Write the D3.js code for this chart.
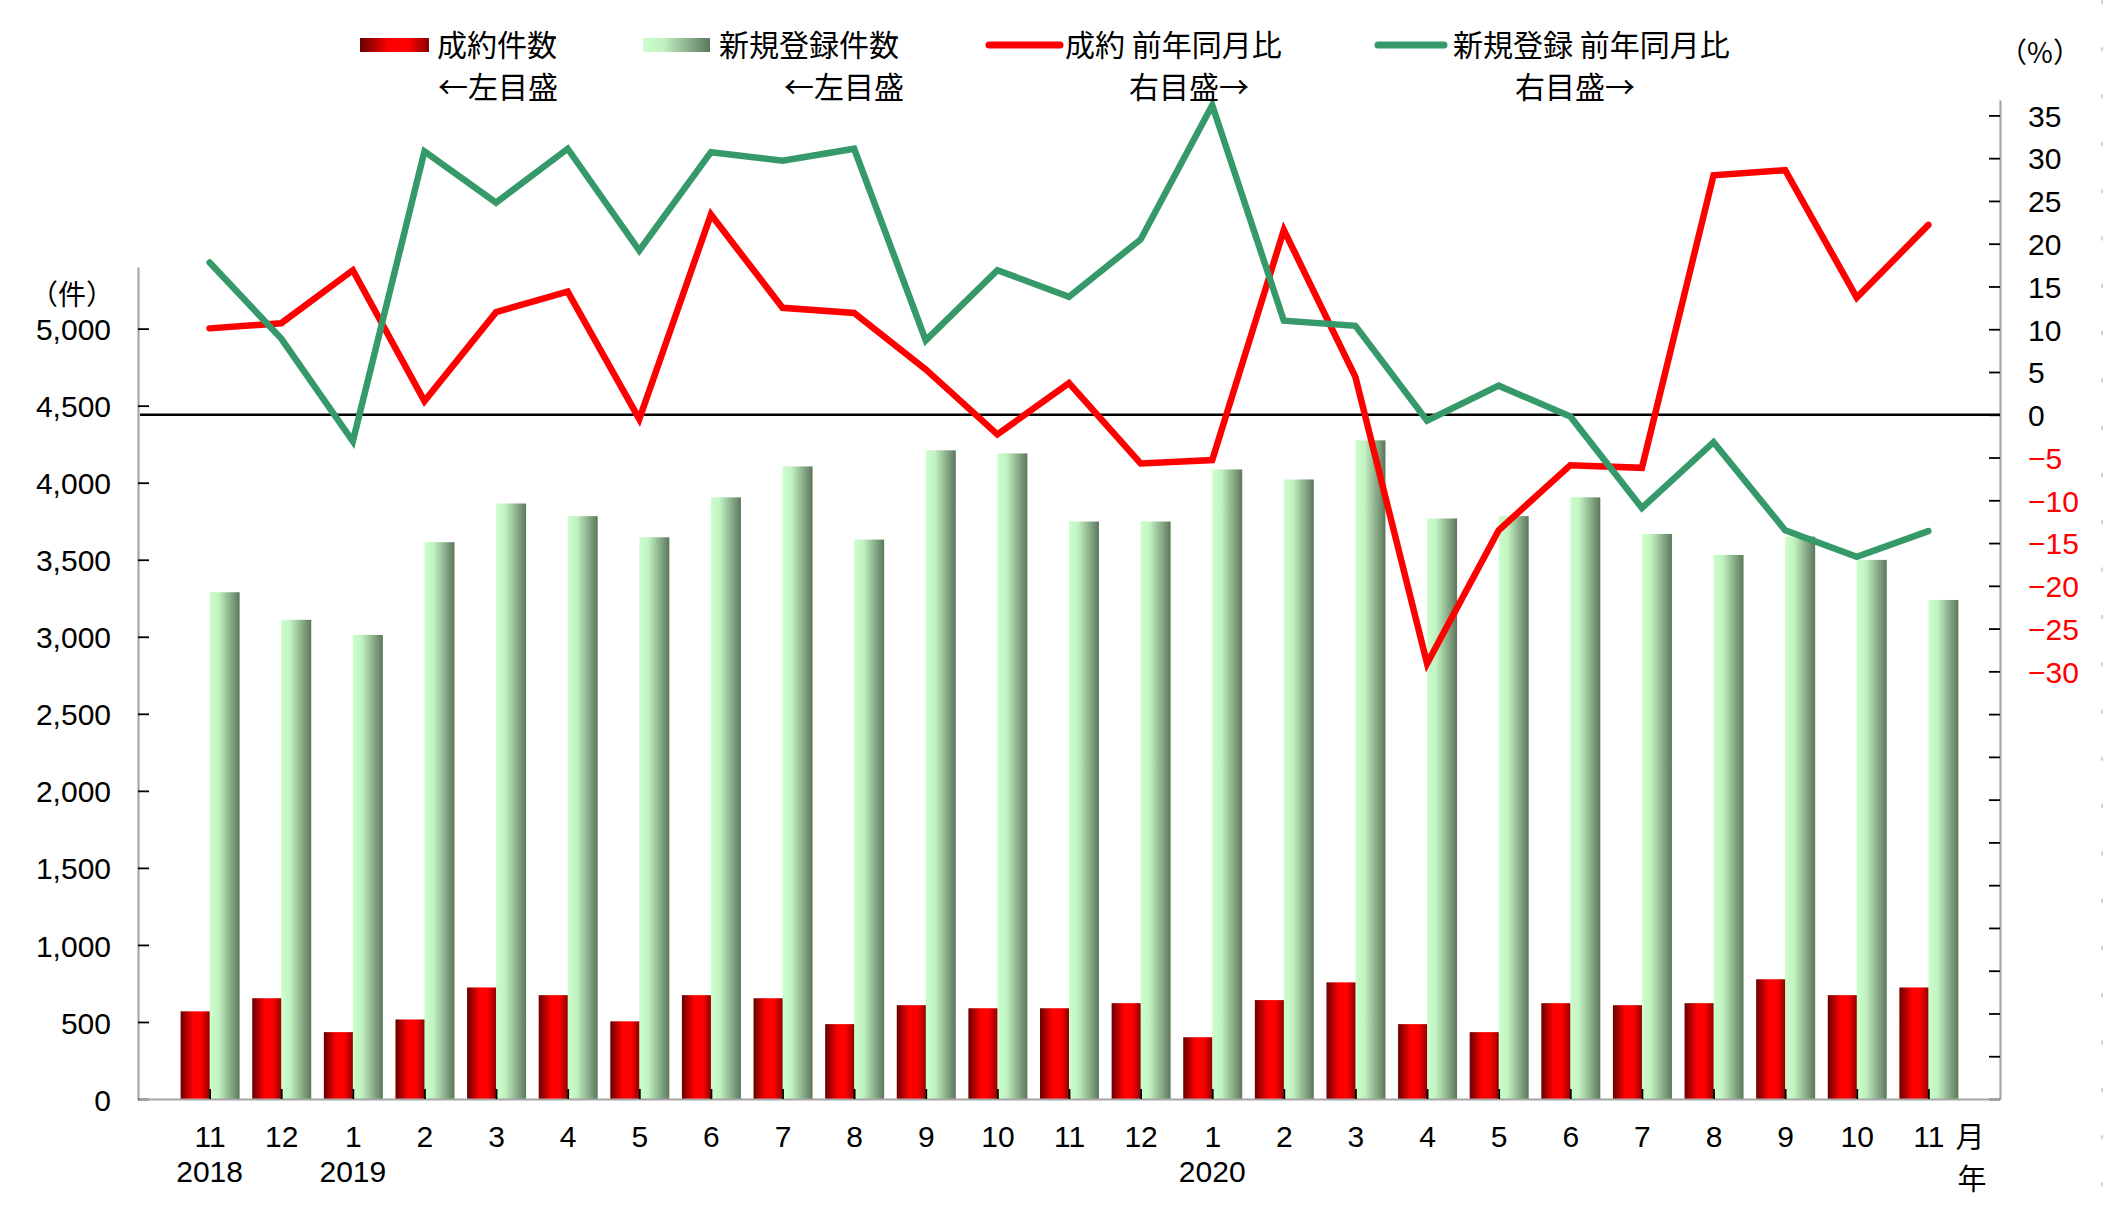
<!DOCTYPE html>
<html>
<head>
<meta charset="utf-8">
<script src="https://d3js.org/d3.v7.min.js"></script>
<style>
body { margin: 0; background: #fff; }
svg text { font-family: "Liberation Sans", "Noto Sans CJK JP", sans-serif; }
svg text.cjk { font-family: "Noto Sans CJK JP", "Liberation Sans", sans-serif; }
</style>
</head>
<body>
<div class="chart"></div>
<script>
// months on the x axis, Nov 2018 .. Nov 2020
var months = ["11", "12", "1", "2", "3", "4", "5", "6", "7", "8", "9", "10", "11", "12",
              "1", "2", "3", "4", "5", "6", "7", "8", "9", "10", "11"];
var yearIndex = [0, 2, 14];
var yearText = ["2018", "2019", "2020"];

// 成約件数 (bars, left axis)
var contracts = [569, 654, 434, 516, 724, 674, 504, 674, 654, 486, 609, 589, 589,
                 622, 401, 642, 757, 486, 434, 622, 609, 622, 777, 674, 724];
// 新規登録件数 (bars, left axis)
var listings = [3289, 3110, 3012, 3614, 3865, 3783, 3646, 3905, 4106, 3631, 4210, 4190, 3748,
                3748, 4086, 4021, 4275, 3768, 3783, 3905, 3667, 3531, 3650, 3499, 3239];
// 成約 前年同月比 (%, right axis)
var contractsYoY = [10.1, 10.7, 16.9, 1.6, 12.0, 14.4, -0.5, 23.4, 12.5, 11.9, 5.3, -2.3, 3.7,
                    -5.7, -5.3, 21.6, 4.4, -29.1, -13.5, -5.9, -6.2, 28.0, 28.6, 13.7, 22.2];
// 新規登録 前年同月比 (%, right axis)
var listingsYoY = [17.8, 8.9, -3.1, 30.8, 24.8, 31.1, 19.2, 30.7, 29.7, 31.1, 8.7, 16.9, 13.8,
                   20.5, 36.2, 11.0, 10.4, -0.7, 3.4, -0.2, -10.9, -3.2, -13.5, -16.6, -13.6];

var leftTicks = [0, 500, 1000, 1500, 2000, 2500, 3000, 3500, 4000, 4500, 5000];
var rightTicks = [-80, -75, -70, -65, -60, -55, -50, -45, -40, -35, -30, -25, -20, -15, -10, -5,
                  0, 5, 10, 15, 20, 25, 30, 35];
var rightLabelMin = -30;

var width = 2117;
var height = 1205;

var svg = d3.select(".chart").append("svg")
    .attr("width", width)
    .attr("height", height)
    .style("display", "block");

var defs = svg.append("defs");
var redGrad = defs.append("linearGradient").attr("id", "redGrad");
redGrad.selectAll("stop")
    .data([[0, "#680000"], [0.42, "#ff0000"], [0.7, "#ff0000"], [1, "#8a0000"]])
    .enter().append("stop")
    .attr("offset", function(d) { return d[0]; })
    .attr("stop-color", function(d) { return d[1]; });
var greenGrad = defs.append("linearGradient").attr("id", "greenGrad");
greenGrad.selectAll("stop")
    .data([[0, "#ccffcc"], [0.3, "#c2f2c2"], [1, "#5c775c"]])
    .enter().append("stop")
    .attr("offset", function(d) { return d[0]; })
    .attr("stop-color", function(d) { return d[1]; });

var left = 138, right = 2000, bottom = 1099;
var x = d3.scaleLinear().domain([-1, months.length]).range([left, right]);
var yL = d3.scaleLinear().domain([0, 5400]).range([bottom, 267]);
var yR = d3.scaleLinear().domain([-80, 36.8]).range([bottom, 100]);

// faint dashed border at far right
svg.append("line")
    .attr("x1", 2102).attr("x2", 2102).attr("y1", 0).attr("y2", height)
    .attr("stroke", "#c4c4c4").attr("stroke-width", 1.5)
    .attr("stroke-dasharray", "4 43.3");

// bars
svg.selectAll("rect.contract")
    .data(contracts)
    .enter().append("rect")
    .attr("class", "contract")
    .attr("x", function(d, i) { return x(i) - 29; })
    .attr("y", function(d) { return yL(d); })
    .attr("width", 29.5)
    .attr("height", function(d) { return bottom - yL(d); })
    .attr("fill", "url(#redGrad)");

svg.selectAll("rect.listing")
    .data(listings)
    .enter().append("rect")
    .attr("class", "listing")
    .attr("x", function(d, i) { return x(i); })
    .attr("y", function(d) { return yL(d); })
    .attr("width", 30)
    .attr("height", function(d) { return bottom - yL(d); })
    .attr("fill", "url(#greenGrad)");

// axes
function styleAxis(g) {
    g.select(".domain").attr("stroke", "#a6a6a6").attr("stroke-width", 2.2);
    g.selectAll(".tick line").attr("stroke", "#000").attr("stroke-width", 1.8);
    g.selectAll(".tick text").attr("font-size", 30).attr("fill", "#000")
        .style("font-family", "'Liberation Sans', 'Noto Sans CJK JP', sans-serif");
}

var axL = svg.append("g")
    .attr("transform", "translate(" + left + ",0)")
    .call(d3.axisLeft(yL).tickValues(leftTicks).tickSizeInner(-11).tickSizeOuter(0)
        .tickPadding(27).tickFormat(d3.format(",")));
styleAxis(axL);
axL.selectAll(".tick text").attr("dy", "0.37em");

var axR = svg.append("g")
    .attr("transform", "translate(" + right + ",0)")
    .call(d3.axisRight(yR).tickValues(rightTicks).tickSizeInner(-11).tickSizeOuter(0)
        .tickPadding(28)
        .tickFormat(function(d) {
            if (d < rightLabelMin) return "";
            return d < 0 ? "\u2212" + Math.abs(d) : String(d);
        }));
styleAxis(axR);
axR.selectAll(".tick text").attr("dy", "0.36em")
    .attr("fill", function(d) { return d < 0 ? "#ff0000" : "#000"; });

var axB = svg.append("g")
    .attr("transform", "translate(0," + bottom + ")")
    .call(d3.axisBottom(x).tickValues(d3.range(months.length)).tickSizeInner(-10).tickSizeOuter(0)
        .tickPadding(27).tickFormat(function(d) { return months[d]; }));
styleAxis(axB);

svg.selectAll("text.year")
    .data(yearIndex)
    .enter().append("text")
    .attr("class", "year")
    .attr("x", function(d) { return x(d); })
    .attr("y", 1182)
    .attr("text-anchor", "middle")
    .attr("font-size", 30)
    .text(function(d, i) { return yearText[i]; });

svg.append("text").attr("class", "cjk").attr("x", 1970).attr("y", 1148)
    .attr("text-anchor", "middle").attr("font-size", 29).text("月");
svg.append("text").attr("class", "cjk").attr("x", 1972).attr("y", 1190)
    .attr("text-anchor", "middle").attr("font-size", 29).text("年");

svg.append("text").attr("class", "cjk").attr("x", 72).attr("y", 305)
    .attr("text-anchor", "middle").attr("font-size", 28).text("（件）");
svg.append("text").attr("class", "cjk").attr("x", 2040).attr("y", 63)
    .attr("text-anchor", "middle").attr("font-size", 28).text("（%）");

// zero line of the right axis
svg.append("line")
    .attr("x1", left + 2).attr("x2", right)
    .attr("y1", yR(0)).attr("y2", yR(0))
    .attr("stroke", "#000").attr("stroke-width", 2.5);

// year-on-year lines
var line = d3.line()
    .x(function(d, i) { return x(i); })
    .y(function(d) { return yR(d); });

svg.append("path")
    .datum(contractsYoY)
    .attr("d", line)
    .attr("fill", "none")
    .attr("stroke", "#ff0000")
    .attr("stroke-width", 6.5)
    .attr("stroke-linecap", "round");

svg.append("path")
    .datum(listingsYoY)
    .attr("d", line)
    .attr("fill", "none")
    .attr("stroke", "#35996a")
    .attr("stroke-width", 6.5)
    .attr("stroke-linecap", "round");

// legend
var lg = svg.append("g").attr("font-size", 30).attr("fill", "#000");
lg.append("rect").attr("x", 360).attr("y", 38).attr("width", 69).attr("height", 14)
    .attr("fill", "url(#redGrad)");
lg.append("text").attr("class", "cjk").attr("x", 437).attr("y", 56).text("成約件数");
lg.append("text").attr("class", "cjk").attr("x", 558).attr("y", 98)
    .attr("text-anchor", "end").text("←左目盛");

lg.append("rect").attr("x", 643).attr("y", 38).attr("width", 67).attr("height", 14)
    .attr("fill", "url(#greenGrad)");
lg.append("text").attr("class", "cjk").attr("x", 719).attr("y", 56).text("新規登録件数");
lg.append("text").attr("class", "cjk").attr("x", 904).attr("y", 98)
    .attr("text-anchor", "end").text("←左目盛");

lg.append("line").attr("x1", 989).attr("x2", 1060).attr("y1", 45).attr("y2", 45)
    .attr("stroke", "#ff0000").attr("stroke-width", 7).attr("stroke-linecap", "round");
lg.append("text").attr("class", "cjk").attr("x", 1065).attr("y", 56).text("成約 前年同月比");
lg.append("text").attr("class", "cjk").attr("x", 1129).attr("y", 98).text("右目盛→");

lg.append("line").attr("x1", 1378).attr("x2", 1444).attr("y1", 45).attr("y2", 45)
    .attr("stroke", "#35996a").attr("stroke-width", 7).attr("stroke-linecap", "round");
lg.append("text").attr("class", "cjk").attr("x", 1453).attr("y", 56).text("新規登録 前年同月比");
lg.append("text").attr("class", "cjk").attr("x", 1515).attr("y", 98).text("右目盛→");
</script>
</body>
</html>
